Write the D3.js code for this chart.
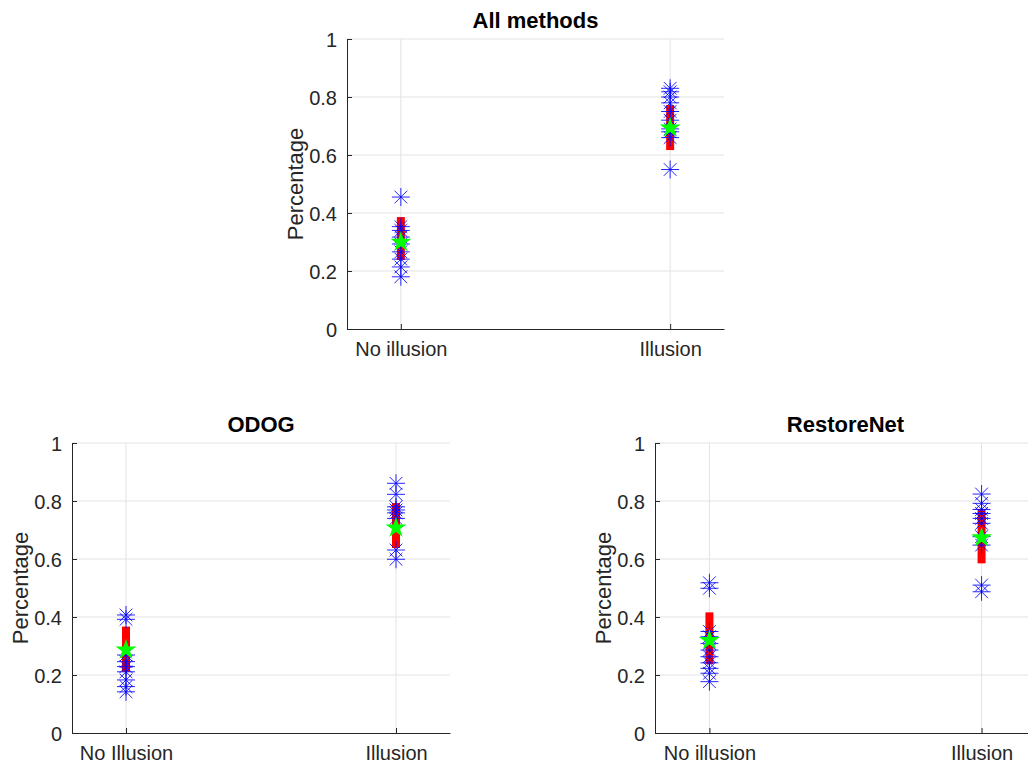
<!DOCTYPE html>
<html>
<head>
<meta charset="utf-8">
<script src="https://cdn.jsdelivr.net/npm/d3@7"></script>
<style>
  html, body { margin: 0; padding: 0; background: #fff; }
  text { font-family: "Liberation Sans", Arial, Helvetica, sans-serif; fill: #262626; }
</style>
</head>
<body>
<svg id="chart-svg" width="1028" height="768"></svg>
<script>
// category labels (the ODOG panel spells it with a capital I)
const catsAll = ['No illusion', 'Illusion'];
const catsOdog = ['No Illusion', 'Illusion'];
const catsRest = ['No illusion', 'Illusion'];

const yTicks = [0, 0.2, 0.4, 0.6, 0.8, 1];

// individual results (blue asterisks)
const allNo = [0.455, 0.353, 0.34, 0.317, 0.293, 0.266, 0.241, 0.214, 0.18];
const allYes = [0.83, 0.818, 0.80, 0.78, 0.75, 0.72, 0.69, 0.68, 0.66, 0.55];
const odogNo = [0.407, 0.392, 0.269, 0.246, 0.229, 0.211, 0.183, 0.16, 0.142];
const odogYes = [0.861, 0.823, 0.78, 0.769, 0.759, 0.74, 0.631, 0.599];
const restNo = [0.518, 0.499, 0.35, 0.332, 0.309, 0.286, 0.263, 0.242, 0.223, 0.206, 0.177];
const restYes = [0.824, 0.792, 0.771, 0.757, 0.74, 0.723, 0.677, 0.648, 0.51, 0.487];

// spread (red bar, low/high) and mean (green star)
const allBar = [[0.238, 0.386], [0.617, 0.772]];
const odogBar = [[0.211, 0.367], [0.638, 0.793]];
const restBar = [[0.238, 0.416], [0.585, 0.772]];
const allMean = [0.303, 0.697];
const odogMean = [0.29, 0.711];
const restMean = [0.323, 0.677];

const svg = d3.select('#chart-svg');
svg.append('rect').attr('width', 1028).attr('height', 768).attr('fill', '#fff');

const asteriskPath = (cx, cy, r) => {
  const d = r * 0.7071;
  return `M${cx - r},${cy}L${cx + r},${cy}M${cx},${cy - r}L${cx},${cy + r}` +
    `M${cx - d},${cy - d}L${cx + d},${cy + d}M${cx - d},${cy + d}L${cx + d},${cy - d}`;
};

const buildPanel = (p) => {
  const g = svg.append('g');
  const x = d3.scaleLinear().domain([0.8, 2.2]).range([p.left, p.right]);
  const y = d3.scaleLinear().domain([0, 1]).range([p.bottom, p.top]);

  // grid
  g.selectAll('.hgrid').data(yTicks.filter(t => t > 0)).join('line')
    .attr('x1', p.left).attr('x2', p.right)
    .attr('y1', d => y(d)).attr('y2', d => y(d))
    .attr('stroke', '#e3e3e3').attr('stroke-width', 1);
  g.selectAll('.vgrid').data(p.cats).join('line')
    .attr('x1', (d, i) => x(i + 1)).attr('x2', (d, i) => x(i + 1))
    .attr('y1', p.top).attr('y2', p.bottom)
    .attr('stroke', '#e3e3e3').attr('stroke-width', 1);

  // axes (MATLAB style, ticks inside, box off)
  const yAxis = d3.axisLeft(y).tickValues(yTicks).tickSizeInner(-5).tickSizeOuter(0)
    .tickPadding(10).tickFormat(d => d === 0 || d === 1 ? d3.format('d')(d) : d3.format('.1f')(d).replace(/^0/, '0'));
  const ya = g.append('g').attr('transform', `translate(${p.left},0)`).call(yAxis);
  const xAxis = d3.axisBottom(x).tickValues([1, 2]).tickSizeInner(-5).tickSizeOuter(0)
    .tickPadding(13).tickFormat((d, i) => p.cats[i]);
  const xa = g.append('g').attr('transform', `translate(0,${p.bottom})`).call(xAxis);
  [ya, xa].forEach(a => {
    a.select('.domain').attr('stroke', '#262626');
    a.selectAll('.tick line').attr('stroke', '#262626');
    a.selectAll('.tick text').attr('font-size', 20).attr('fill', '#262626')
      .style('font-family', '"Liberation Sans", Arial, sans-serif');
  });
  ya.selectAll('.tick text').attr('dy', '0.35em');

  // titles
  g.append('text').attr('x', (p.left + p.right) / 2).attr('y', p.top - 11)
    .attr('text-anchor', 'middle').attr('font-size', 22).attr('font-weight', 'bold')
    .attr('fill', '#000').style('fill', '#000').text(p.title);
  g.append('text').attr('transform', `translate(${p.left - 44},${(p.top + p.bottom) / 2}) rotate(-90)`)
    .attr('text-anchor', 'middle').attr('font-size', 22).text('Percentage');

  // red spread bars
  g.selectAll('.bar').data(p.bar).join('line')
    .attr('x1', (d, i) => x(i + 1)).attr('x2', (d, i) => x(i + 1))
    .attr('y1', d => y(d[0])).attr('y2', d => y(d[1]))
    .attr('stroke', '#ff0000').attr('stroke-width', 8);

  // blue asterisks
  p.vals.forEach((vals, i) => {
    g.selectAll(null).data(vals).join('path')
      .attr('d', d => asteriskPath(x(i + 1), y(d), 9))
      .attr('fill', 'none').attr('stroke', '#0000ff').attr('stroke-width', 1)
      .attr('stroke-opacity', 0.85);
  });

  // green mean star
  g.selectAll('.mean').data(p.mean).join('path')
    .attr('transform', (d, i) => `translate(${x(i + 1)},${y(d) + 1})`)
    .attr('d', d3.symbol(d3.symbolStar, 136))
    .attr('fill', '#00ff00');
};

buildPanel({ title: 'All methods', cats: catsAll, vals: [allNo, allYes], bar: allBar, mean: allMean,
  left: 347, right: 724, top: 39, bottom: 329 });
buildPanel({ title: 'ODOG', cats: catsOdog, vals: [odogNo, odogYes], bar: odogBar, mean: odogMean,
  left: 72, right: 450, top: 443, bottom: 733 });
buildPanel({ title: 'RestoreNet', cats: catsRest, vals: [restNo, restYes], bar: restBar, mean: restMean,
  left: 655, right: 1036, top: 443, bottom: 733 });
</script>
</body>
</html>
